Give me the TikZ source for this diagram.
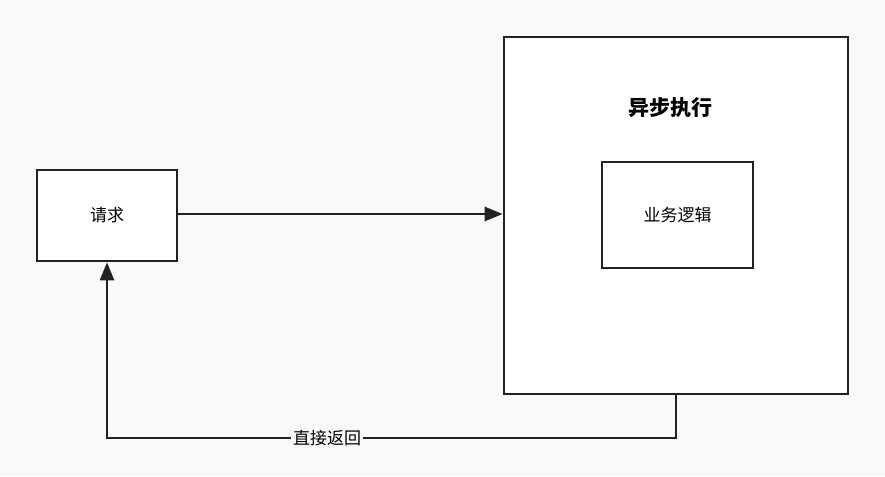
\documentclass[tikz,border=0pt]{standalone}
\usepackage{fontspec}
\newfontfamily\cjk{Noto Sans CJK SC}
\usetikzlibrary{positioning,arrows.meta}
\definecolor{bg}{HTML}{F9F9F9}
\definecolor{ink}{HTML}{222222}
\tikzset{
  box/.style={draw=ink, line width=2.6pt, fill=white, inner sep=0pt},
  conn/.style={draw=ink, line width=2.6pt, -{Triangle[length=18pt,width=14pt]}}
}
\begin{document}
\begin{tikzpicture}[x=1pt,y=-1pt,font=\cjk\fontsize{17}{20}\selectfont]
    \fill[bg] (0,0) rectangle (885,476);
    \useasboundingbox (0,0) rectangle (885,476);
    \node[box, minimum width=140pt, minimum height=91pt] (req) at (107,215.5) {请求};
    \node[box, minimum width=344pt, minimum height=357pt] (async) at (676,215.5) {};
    \node[font=\cjk\bfseries\fontsize{21}{24}\selectfont] (title) at (670,108) {异步执行};
    \node[box, minimum width=151pt, minimum height=106pt] (logic) at (677.5,215) {业务逻辑};
    \draw[conn] (req.east |- 0,214) -- (async.west |- 0,214);
    \coordinate (down) at (676,438);
    \coordinate (left) at (107,438);
    \draw[conn] (async.south -| down) -- (down) -- (left) -- (req.south);
    \node[fill=bg, inner sep=2pt] (ret) at (327,438) {直接返回};
\end{tikzpicture}
\end{document}
